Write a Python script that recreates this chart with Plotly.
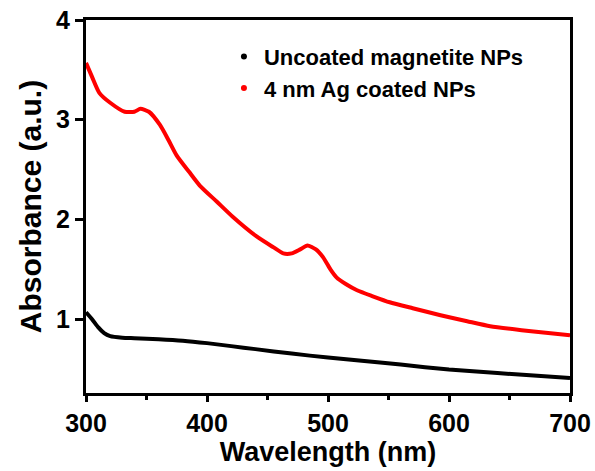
import plotly.graph_objects as go

# Data
wl_uncoated = [300, 305, 310, 315, 320, 330, 340, 360, 380, 400, 420, 440, 470, 500, 530, 560, 600, 640, 670, 700]
abs_uncoated = [1.07, 1.0, 0.92, 0.86, 0.83, 0.815, 0.81, 0.80, 0.785, 0.76, 0.73, 0.70, 0.655, 0.615, 0.58, 0.545, 0.495, 0.46, 0.435, 0.41]

wl_ag = [300, 305, 311, 320, 332, 340, 345, 352, 361, 368, 375, 385, 394, 408, 421, 441, 455, 463, 470, 477, 483, 490, 496, 502, 507, 515, 524, 537, 551, 570, 593, 615, 634, 660, 680, 700]
abs_ag = [3.57, 3.43, 3.27, 3.17, 3.08, 3.08, 3.11, 3.08, 2.95, 2.80, 2.64, 2.48, 2.34, 2.18, 2.03, 1.83, 1.72, 1.66, 1.66, 1.70, 1.74, 1.70, 1.62, 1.50, 1.42, 1.35, 1.29, 1.23, 1.17, 1.11, 1.04, 0.98, 0.93, 0.89, 0.865, 0.84]

series_names = ["Uncoated magnetite NPs", "4 nm Ag coated NPs"]
series_colors = ["#000000", "#ff0000"]

x_ticks = [300, 400, 500, 600, 700]
y_ticks = [1, 2, 3, 4]

FONT = "Liberation Sans, Arial, sans-serif"

fig = go.Figure()
for wl, ab, name, col in [(wl_uncoated, abs_uncoated, series_names[0], series_colors[0]),
                          (wl_ag, abs_ag, series_names[1], series_colors[1])]:
    fig.add_trace(go.Scatter(x=wl, y=ab, mode="lines", line=dict(color=col, width=4, shape="spline", smoothing=0.6),
                             showlegend=False, hoverinfo="skip"))
    fig.add_trace(go.Scatter(x=[None], y=[None], mode="markers", name=name,
                             marker=dict(color=col, size=6, symbol="circle")))

axis_common = dict(showline=True, linecolor="black", linewidth=3, mirror=True,
                   ticks="outside", tickwidth=2.5, tickcolor="black",
                   showgrid=False, zeroline=False, automargin=False,
                   tickfont=dict(family=FONT, size=25, color="black", weight="bold"))

fig.update_xaxes(range=[300, 700], tickvals=x_ticks, ticktext=[str(v) for v in x_ticks], ticklen=6,
                 minor=dict(ticks="outside", ticklen=4, tickwidth=2.5, tickcolor="black", dtick=50, tick0=300),
                 title=dict(text="Wavelength (nm)", font=dict(family=FONT, size=27, color="black", weight="bold"), standoff=6),
                 **axis_common)
fig.update_yaxes(range=[0.26, 4], tickvals=y_ticks, ticktext=[str(v) for v in y_ticks], ticklen=8,
                 title=dict(text="Absorbance (a.u.)", font=dict(family=FONT, size=30, color="black", weight="bold"), standoff=6),
                 **axis_common)

fig.update_layout(width=595, height=471, margin=dict(l=86, r=25, t=20, b=78),
                  plot_bgcolor="white", paper_bgcolor="white",
                  legend=dict(x=0.285, y=0.958, xanchor="left", yanchor="top", bgcolor="rgba(0,0,0,0)",
                              font=dict(family=FONT, size=22, color="black", weight="bold"),
                              tracegroupgap=0, itemwidth=30))

fig.write_html("out.html")
